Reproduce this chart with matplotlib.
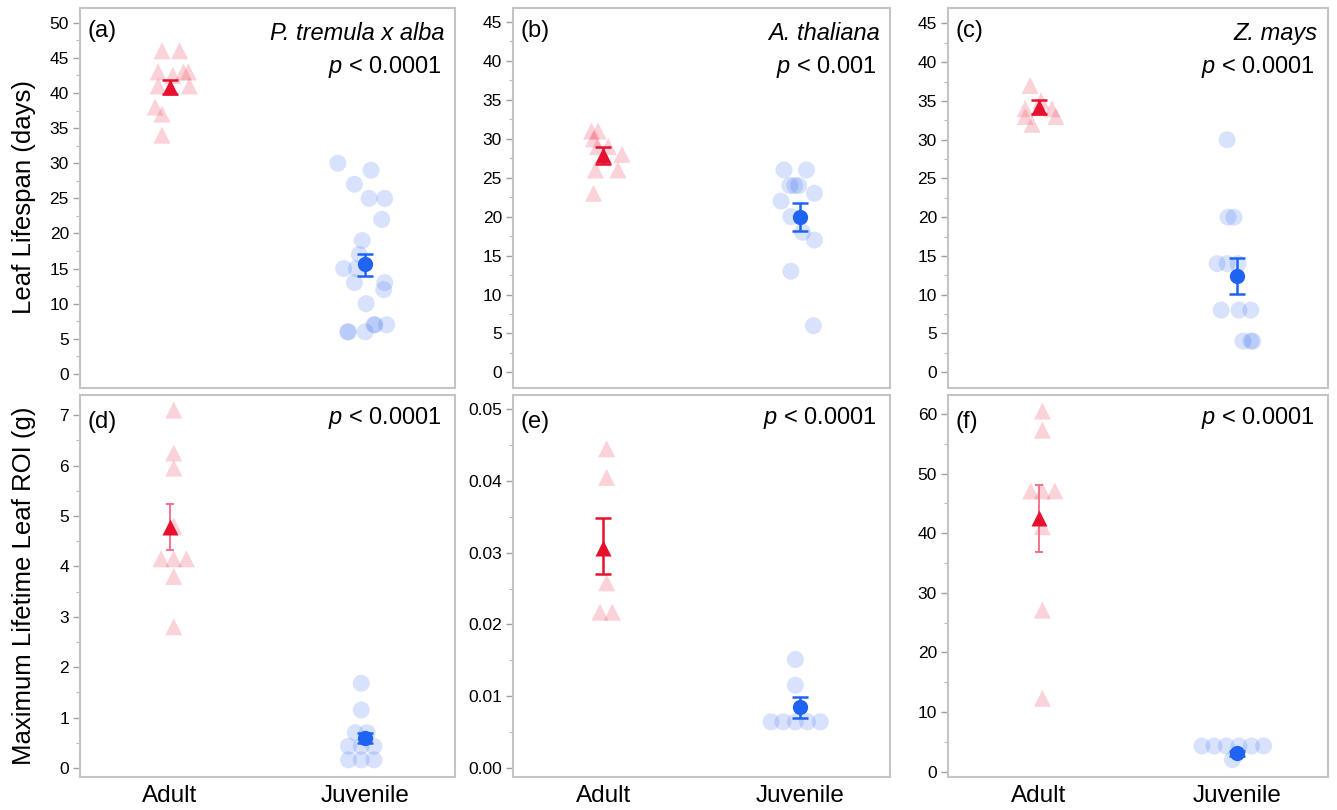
import numpy as np
import matplotlib
matplotlib.use('Agg')
import matplotlib.pyplot as plt
from matplotlib.ticker import MultipleLocator, AutoMinorLocator

plt.rcParams['font.family'] = ['Liberation Sans', 'DejaVu Sans']
plt.rcParams['mathtext.fontset'] = 'custom'
plt.rcParams['mathtext.it'] = 'Liberation Sans:italic'
plt.rcParams['mathtext.rm'] = 'Liberation Sans'

groups = ['Adult', 'Juvenile']
panel_tags = ['(a)', '(b)', '(c)', '(d)', '(e)', '(f)']
species = ['P. tremula x alba', 'A. thaliana', 'Z. mays', '', '', '']
p_texts = ['< 0.0001', '< 0.001', '< 0.0001', '< 0.0001', '< 0.0001', '< 0.0001']

# raw points (values) and their horizontal jitter
adult_vals = [
    [46, 46, 43, 43, 43, 42.5, 41, 41, 38, 37, 34],
    [31, 31, 30, 29, 29, 28, 26, 26, 23],
    [37, 35, 34, 34, 33, 33, 32],
    [7.1, 6.25, 5.95, 4.8, 4.15, 4.15, 4.15, 3.8, 2.8],
    [0.0445, 0.0405, 0.0258, 0.0217, 0.0217],
    [60.5, 57.3, 47.1, 47.1, 47.1, 41.1, 27.1, 12.3],
]
adult_jit = [
    [-0.04, 0.05, -0.06, 0.07, 0.095, 0.015, -0.06, 0.1, -0.075, -0.04, -0.04],
    [-0.06, -0.027, -0.05, -0.03, 0.025, 0.095, -0.04, 0.075, -0.05],
    [-0.045, 0.01, -0.07, 0.065, -0.07, 0.085, -0.035],
    [0.02, 0.02, 0.02, 0.02, -0.045, 0.02, 0.085, 0.02, 0.02],
    [0.017, 0.017, 0.017, -0.017, 0.046],
    [0.017, 0.017, -0.042, 0.017, 0.08, 0.017, 0.017, 0.017],
]
juv_vals = [
    [30, 29, 27, 25, 25, 22, 19, 17, 15, 15, 13, 13, 12, 10, 7, 7, 7, 6, 6, 6],
    [26, 26, 24, 24, 24, 23, 22, 20, 18, 17, 13, 6],
    [30, 20, 20, 14, 14, 14, 8, 8, 8, 4, 4, 4],
    [1.68, 1.15, 0.7, 0.7, 0.43, 0.43, 0.43, 0.16, 0.16, 0.16],
    [0.0151, 0.0115, 0.0064, 0.0064, 0.0064, 0.0064, 0.0064],
    [4.3, 4.3, 4.3, 4.3, 4.3, 4.3, 2.0],
]
juv_jit = [
    [-0.14, 0.03, -0.055, 0.02, 0.1, 0.085, -0.015, -0.03, -0.11, -0.045,
     -0.055, 0.1, 0.095, 0.005, 0.05, 0.045, 0.11, -0.09, -0.085, 0.0],
    [-0.08, 0.035, -0.05, -0.005, -0.025, 0.075, -0.095, -0.045, 0.015, 0.075, -0.045, 0.07],
    [-0.05, -0.045, -0.015, -0.1, -0.05, 0.005, -0.08, 0.01, 0.07, 0.03, 0.07, 0.08],
    [-0.02, -0.02, -0.05, 0.01, -0.085, -0.02, 0.045, -0.085, -0.02, 0.045],
    [-0.022, -0.022, -0.146, -0.085, -0.022, 0.04, 0.105],
    [-0.177, -0.116, -0.054, 0.01, 0.073, 0.135, -0.023],
]

# group means with lower / upper error bar ends
adult_mean = [40.8, 27.9, 34.2, 4.78, 0.0306, 42.5]
adult_lo = [39.8, 26.8, 33.3, 4.33, 0.0270, 36.9]
adult_hi = [41.9, 29.0, 35.1, 5.23, 0.0349, 48.1]
juv_mean = [15.6, 20.0, 12.4, 0.6, 0.0084, 3.1]
juv_lo = [14.0, 18.2, 10.1, 0.5, 0.0070, 2.7]
juv_hi = [17.1, 21.7, 14.7, 0.7, 0.0098, 3.5]

ylims = [(-2, 52.1), (-2, 46.8), (-2.05, 47), (-0.18, 7.4), (-0.0013, 0.052), (-0.9, 63.2)]
ymajor = [5, 5, 5, 1, 0.01, 10]
thin_bars = [False, False, False, True, False, True]

red = '#e8102f'
blue = '#1f63f2'
light_red = (0.93, 0.2, 0.3, 0.22)
light_blue = (0.16, 0.39, 0.94, 0.18)

fig = plt.figure(figsize=(13.37, 8.10), dpi=100)
lefts = [80, 513, 948]
widths = [375, 377, 380]
rows = [(8, 388), (395, 777)]

for i in range(6):
    r, c = divmod(i, 3)
    top, bot = rows[r]
    ax = fig.add_axes([lefts[c] / 1337, 1 - bot / 810, widths[c] / 1337, (bot - top) / 810])

    ax.scatter(np.array(adult_jit[i]), adult_vals[i], marker='^', s=150,
               color=light_red, edgecolors='none', zorder=2)
    ax.scatter(1 + np.array(juv_jit[i]), juv_vals[i], marker='o', s=150,
               color=light_blue, edgecolors='none', zorder=2)

    for x, m, lo, hi, col, mk in [(0, adult_mean[i], adult_lo[i], adult_hi[i], red, '^'),
                                  (1, juv_mean[i], juv_lo[i], juv_hi[i], blue, 'o')]:
        if thin_bars[i] and x == 0:
            ax.errorbar([x], [m], yerr=[[m - lo], [hi - m]], fmt='none', ecolor='#f06a80',
                        elinewidth=1.3, capsize=3, capthick=1.3, zorder=3)
        else:
            ax.errorbar([x], [m], yerr=[[m - lo], [hi - m]], fmt='none', ecolor=col,
                        elinewidth=1.8, capsize=6, capthick=1.8, zorder=3)
        ax.plot([x], [m], marker=mk, markersize=11, color=col, mec='none', zorder=4)

    ax.set_xlim(-0.46, 1.46)
    ax.set_ylim(*ylims[i])
    ax.yaxis.set_major_locator(MultipleLocator(ymajor[i]))
    ax.yaxis.set_minor_locator(AutoMinorLocator(2))
    if i == 4:
        ax.yaxis.set_major_formatter(matplotlib.ticker.FormatStrFormatter('%.2f'))
    ax.set_xticks([0, 1])
    if r == 1:
        ax.set_xticklabels(groups, fontsize=17.5)
    else:
        ax.set_xticklabels([])
    ax.tick_params(axis='x', length=0, pad=6)
    ax.tick_params(axis='y', which='major', length=5, width=1, color='#a0a0a0',
                   labelsize=12.5, pad=3)
    ax.tick_params(axis='y', which='minor', length=3, width=0.8, color='#b8b8b8')
    for sp in ax.spines.values():
        sp.set_color('#c4c4c4')
        sp.set_linewidth(1.5)

    if r == 0:
        ax.text(0.02, 0.94, panel_tags[i], transform=ax.transAxes, fontsize=17,
                ha='left', va='center')
        ax.text(0.972, 0.932, species[i], transform=ax.transAxes, fontsize=17,
                style='italic', ha='right', va='center')
        ax.text(0.965, 0.846, r'$\it{p}$ ' + p_texts[i], transform=ax.transAxes,
                fontsize=17, ha='right', va='center')
    else:
        ax.text(0.02, 0.93, panel_tags[i], transform=ax.transAxes, fontsize=17,
                ha='left', va='center')
        ax.text(0.965, 0.94, r'$\it{p}$ ' + p_texts[i], transform=ax.transAxes,
                fontsize=17, ha='right', va='center')

fig.text(24 / 1337, 1 - 197 / 810, 'Leaf Lifespan (days)', rotation=90,
         fontsize=18.5, ha='center', va='center')
fig.text(24 / 1337, 1 - 586 / 810, 'Maximum Lifetime Leaf ROI (g)', rotation=90,
         fontsize=18.5, ha='center', va='center')

fig.savefig('out.png', dpi=100)
